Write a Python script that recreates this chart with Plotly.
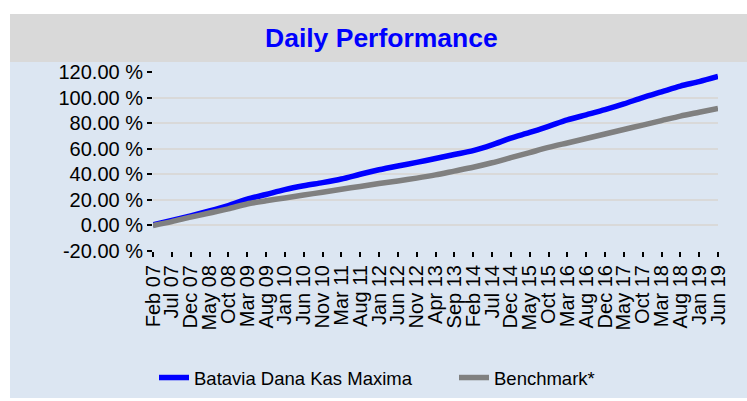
import plotly.graph_objects as go

labels = ["Feb 07", "Jul 07", "Dec 07", "May 08", "Oct 08", "Mar 09", "Aug 09", "Jan 10",
          "Jun 10", "Nov 10", "Mar 11", "Aug 11", "Jan 12", "Jun 12", "Nov 12", "Apr 13",
          "Sep 13", "Feb 14", "Jul 14", "Dec 14", "May 15", "Oct 15", "Mar 16", "Aug 16",
          "Dec 16", "May 17", "Oct 17", "Mar 18", "Aug 18", "Jan 19", "Jun 19"]

fund_values = [0.5, 4, 7.5, 11.3, 15.5, 20.5, 24.2, 28, 31, 33.5, 36.3, 40, 43.5, 46.5, 49.3,
               52.3, 55.5, 58.5, 63, 68.3, 72.7, 77.5, 82.5, 86.5, 90.5, 95, 100, 104.5, 109,
               112.5, 116.5]
bench_values = [0, 3, 6.5, 9.7, 13, 16.8, 19.3, 21.5, 23.8, 26, 28.3, 30.5, 32.8, 34.8, 37,
                39.5, 42.5, 45.5, 49, 53, 57, 61, 64.5, 68, 71.5, 75, 78.5, 82, 85.5, 88.5, 91.5]

y_ticks = [-20, 0, 20, 40, 60, 80, 100, 120]
y_tick_text = ["-20.00 %", "0.00 %", "20.00 %", "40.00 %", "60.00 %", "80.00 %",
               "100.00 %", "120.00 %"]

x_idx = list(range(len(labels)))

W, H = 747, 401
L, R, T, B = 153, 29, 72, 150
pw, ph = W - L - R, H - T - B


def px(x):
    return (x - L) / pw


def py(y):
    return (H - B - y) / ph


FONT = "Liberation Sans, Arial, sans-serif"

fig = go.Figure()
fig.add_trace(go.Scatter(x=x_idx, y=fund_values, mode="lines", name="Batavia Dana Kas Maxima",
                         legend="legend",
                         line=dict(color="#0000ff", width=5.5, shape="spline", smoothing=0.8)))
fig.add_trace(go.Scatter(x=x_idx, y=bench_values, mode="lines", name="Benchmark*",
                         legend="legend2",
                         line=dict(color="#808080", width=5.5, shape="spline", smoothing=0.8)))

legend_common = dict(orientation="h", yanchor="middle", xanchor="left",
                     font=dict(size=18.5, family=FONT, color="black"),
                     bgcolor="rgba(0,0,0,0)", borderwidth=0)

fig.update_layout(
    template="none",
    width=W, height=H,
    margin=dict(l=L, r=R, t=T, b=B, pad=0, autoexpand=False),
    paper_bgcolor="white",
    plot_bgcolor="white",
    font=dict(family=FONT, color="black", size=20),
    showlegend=True,
    legend=dict(x=px(154), y=py(378), **legend_common),
    legend2=dict(x=px(454), y=py(378), **legend_common),
    shapes=[
        dict(type="rect", xref="paper", yref="paper", x0=px(10), x1=px(747), y0=py(398), y1=py(62),
             fillcolor="#dce6f2", line=dict(width=0), layer="below"),
        dict(type="rect", xref="paper", yref="paper", x0=px(10), x1=px(747), y0=py(62), y1=py(14),
             fillcolor="#d9d9d9", line=dict(width=0), layer="below"),
    ],
    annotations=[
        dict(text="<b>Daily Performance</b>", xref="paper", yref="paper", x=px(381), y=py(38),
             xanchor="center", yanchor="middle", showarrow=False,
             font=dict(size=26.5, color="#0000ff", family=FONT)),
    ],
)

fig.update_xaxes(
    range=[0, len(labels) - 1],
    tickmode="array", tickvals=x_idx, ticktext=labels,
    tickangle=-90, ticks="outside", ticklen=5, tickcolor="black", tickwidth=1.5,
    showgrid=False, zeroline=False, showline=False, automargin=False,
    tickfont=dict(size=20, family=FONT, color="black"),
)
fig.update_yaxes(
    range=[-20, 120],
    tickmode="array", tickvals=y_ticks, ticktext=y_tick_text,
    ticks="outside", ticklen=5, tickcolor="black", tickwidth=1.5,
    showgrid=True, gridcolor="#d9d9d9", gridwidth=1.5,
    zeroline=False, showline=False, automargin=False,
    tickfont=dict(size=20, family=FONT, color="black"),
)

fig.write_html("out.html",
               config={"displayModeBar": False},
               post_script="document.body.style.margin='0';document.body.style.overflow='hidden';")
